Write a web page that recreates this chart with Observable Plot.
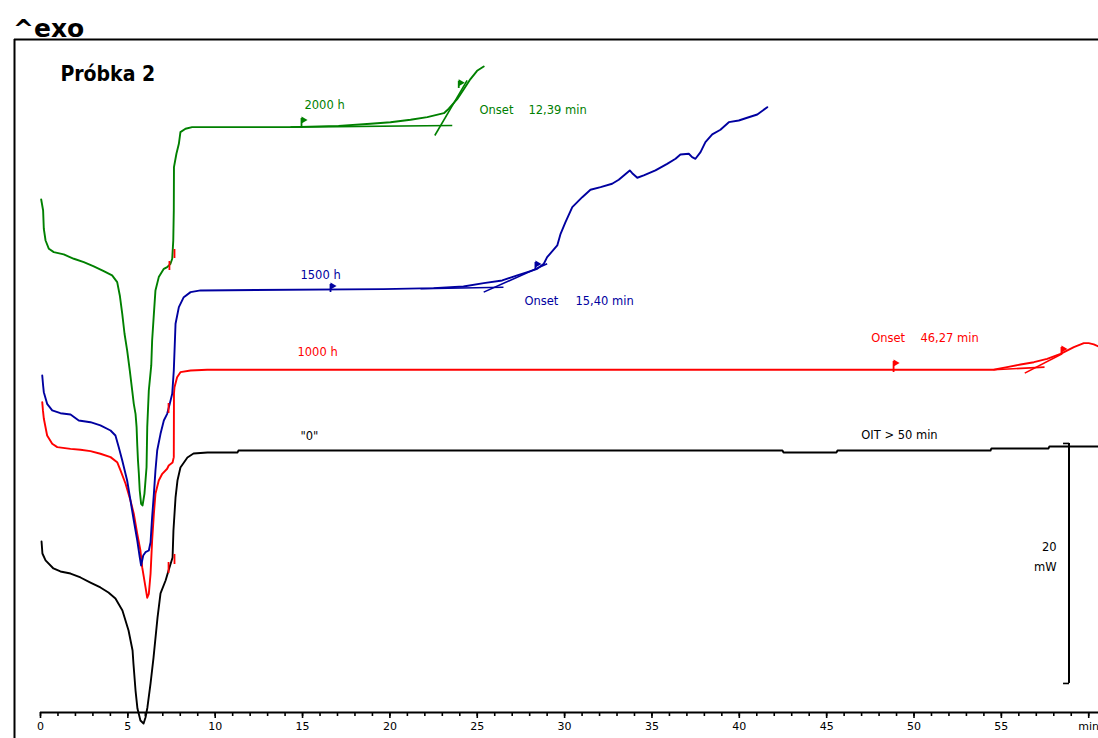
<!DOCTYPE html>
<html><head><meta charset="utf-8">
<script src="https://cdn.jsdelivr.net/npm/d3@7"></script>
<script src="https://cdn.jsdelivr.net/npm/@observablehq/plot@0.6"></script>
<style>
html,body{margin:0;padding:0;background:#fff;}
body{width:1098px;height:738px;overflow:hidden;font-family:"DejaVu Sans",sans-serif;}
#hdr{position:relative;height:37px;}
#hdr span{position:absolute;left:13px;top:16px;font:bold 25px/25px "DejaVu Sans",sans-serif;color:#000;}
#chart svg{display:block;}
</style></head><body>
<div id="hdr"><span>^exo</span></div>
<div id="chart"></div>
<script>
// ---- Data (time in min, heat flow in mW, curves offset as in the original) ----
const seriesNames = ["\"0\"", "1000 h", "1500 h", "2000 h"];
const seriesColors = ["#000000", "#ff0000", "#0000a0", "#008000"];

const blackT = [0.06,0.11,0.29,0.74,1.14,1.72,2.29,2.86,3.43,3.89,4.29,4.69,5.04,5.27,5.32,5.44,5.55,5.72,5.90,6.01,6.12,6.30,6.47,6.70,6.87,7.16,7.33,7.56,7.61,7.73,7.84,8.01,8.41,8.76,9.56,11.28,11.33,42.47,42.53,45.56,45.62,54.38,54.43,57.70,57.75,60.56];
const blackV = [14.25,13.25,12.67,12.0,11.75,11.58,11.25,10.83,10.42,10.0,9.5,8.5,6.83,5.17,4.08,1.83,0.33,-0.67,-0.92,-0.42,0.42,2.42,4.58,7.92,9.92,11.0,11.83,12.92,15.17,17.92,19.33,20.42,21.25,21.58,21.67,21.67,21.83,21.83,21.67,21.67,21.83,21.83,22.0,22.0,22.17,22.17];

const redT = [0.10,0.14,0.19,0.38,0.67,0.96,1.72,2.29,2.86,3.43,4.01,4.39,4.58,4.87,5.15,5.34,5.54,5.72,5.82,6.01,6.11,6.20,6.30,6.39,6.49,6.58,6.77,6.97,7.25,7.34,7.56,7.63,7.64,7.67,7.82,8.01,8.59,9.54,54.55,55.33,56.10,56.86,57.62,58.39,59.15,59.72,60.0,60.29,60.56];
const redV = [25.86,25.17,24.5,23.08,22.39,22.11,21.97,21.89,21.78,21.56,21.28,20.86,20.17,19.06,17.67,16.56,14.89,13.5,12.11,10.44,9.56,9.89,11.56,14.33,16.56,18.22,19.33,19.89,20.31,20.58,20.83,21.28,26.56,27.11,27.94,28.36,28.5,28.56,28.56,28.78,29.0,29.19,29.47,29.89,30.44,30.78,30.78,30.67,30.5];

const blueT = [0.10,0.15,0.19,0.38,0.67,1.14,1.72,2.19,2.86,3.43,4.01,4.29,4.48,4.68,4.96,5.15,5.34,5.54,5.68,5.76,5.88,6.01,6.20,6.30,6.39,6.49,6.58,6.68,6.87,7.06,7.25,7.40,7.54,7.63,7.73,7.92,8.20,8.59,9.16,19.63,22.50,24.21,25.37,26.43,27.29,28.05,28.43,28.81,29.0,29.58,29.77,30.05,30.44,31.01,31.48,32.06,32.72,33.10,33.73,33.87,34.16,34.53,35.20,35.87,36.35,36.63,37.11,37.30,37.49,37.78,38.06,38.45,38.92,39.40,39.97,40.45,41.03,41.60];
const blueV = [28.08,27.25,26.69,25.72,25.17,24.94,24.83,24.33,24.19,23.92,23.5,23.08,22.11,21.0,19.33,17.67,16.0,14.33,12.94,12.25,13.08,13.36,13.5,14.19,16.28,18.22,20.17,21.83,23.22,24.33,24.89,25.72,26.56,28.5,32.39,33.78,34.61,35.03,35.17,35.28,35.36,35.5,35.78,36.0,36.42,36.78,36.97,37.39,37.94,38.92,39.89,40.86,42.11,42.94,43.56,43.78,44.06,44.39,45.17,44.94,44.56,44.75,45.17,45.72,46.14,46.5,46.56,46.28,46.14,46.69,47.53,48.17,48.56,49.19,49.33,49.56,49.83,50.44];

const greenT = [0.04,0.15,0.19,0.29,0.48,0.76,1.33,1.91,2.48,3.05,3.62,4.10,4.39,4.54,4.68,4.81,4.96,5.11,5.25,5.34,5.44,5.50,5.54,5.58,5.63,5.68,5.76,5.84,5.95,6.07,6.11,6.20,6.34,6.39,6.49,6.58,6.77,7.06,7.25,7.44,7.54,7.60,7.63,7.64,7.78,7.92,8.01,8.30,8.68,14.31,17.06,18.89,20.03,21.18,22.14,23.09,23.37,23.85,24.23,24.61,24.99,25.37];
const greenV = [42.75,41.83,40.31,39.33,38.64,38.36,38.17,37.81,37.53,37.17,36.78,36.42,35.86,34.75,33.22,31.56,30.17,28.5,26.83,25.72,24.89,23.78,22.25,21.0,19.89,18.5,17.39,17.25,18.22,20.44,23.78,26.83,28.92,31.0,33.22,35.17,36.28,36.97,37.11,37.39,37.81,39.33,41.83,45.44,46.56,47.39,48.36,48.64,48.78,48.78,48.88,49.06,49.19,49.39,49.61,49.94,50.31,51.11,51.94,52.78,53.47,53.83];

// onset construction: tangent lines [series, t1, v1, t2, v2]
const tangents = [
  ["2000 h", 14.31, 48.78, 23.57, 48.92], ["2000 h", 22.57, 48.08, 24.42, 52.67],
  ["1500 h", 21.75, 35.31, 26.50, 35.44], ["1500 h", 25.37, 35.03, 29.00, 37.39],
  ["1000 h", 54.55, 28.56, 57.47, 28.78], ["1000 h", 56.34, 28.28, 58.48, 29.89]
];
// evaluation limit flags [series, t, vLow, vHigh]
const flags = [
  ["2000 h", 14.94, 48.67, 49.5], ["2000 h", 23.94, 52.0, 52.6],
  ["1500 h", 16.60, 35.0, 35.67], ["1500 h", 28.33, 36.83, 37.5],
  ["1000 h", 48.83, 28.33, 29.25], ["1000 h", 58.44, 29.83, 30.42]
];
// red integration brackets [t, vLow, vHigh]
const brackets = [[7.38, 36.83, 37.58], [7.67, 37.83, 38.58], [7.33, 24.92, 25.75], [7.33, 11.58, 12.5], [7.67, 12.33, 13.17]];

// annotation texts [text, series colour index, t, v]
const labels = [
  ["2000 h", 3, 15.11, 50.58], ["Onset", 3, 25.13, 50.17], ["12,39 min", 3, 27.93, 50.17],
  ["1500 h", 2, 14.88, 36.42], ["Onset", 2, 27.70, 34.28], ["15,40 min", 2, 30.62, 34.28],
  ["1000 h", 1, 14.71, 30.0], ["Onset", 1, 47.55, 31.17], ["46,27 min", 1, 50.37, 31.17],
  ["\"0\"", 0, 14.88, 23.0], ["OIT > 50 min", 0, 46.98, 23.08]
];
const scaleBar = {t: 58.87, tTick: 58.53, from: 2.42, to: 22.42, label: ["20", "mW"], labelT: 58.16, labelV: [13.75, 12.08]};
const sampleTitle = {text: "Próbka 2", t: 1.14, v: 53.17};

const majorTicks = d3.range(0, 61, 5);
const minorTicks = d3.range(0, 61, 1);
const xDomain = [-1.488, 60.56];
const yDomain = [0, 56.08];

// ---- build rows ----
const rows = [];
function add(name, T, V) { T.forEach((t, i) => rows.push({series: name, t, v: V[i]})); }
add(seriesNames[0], blackT, blackV);
add(seriesNames[1], redT, redV);
add(seriesNames[2], blueT, blueV);
add(seriesNames[3], greenT, greenV);

const tanRows = tangents.map(d => ({series: d[0], t1: d[1], v1: d[2], t2: d[3], v2: d[4]}));
const flagRows = flags.map(d => ({series: d[0], t: d[1], lo: d[2], hi: d[3]}));
const bracketRows = brackets.map(d => ({t: d[0], lo: d[1], hi: d[2]}));
const labelRows = labels.map(d => ({text: d[0], color: seriesColors[d[1]], t: d[2], v: d[3]}));

const chart = Plot.plot({
  width: 1098, height: 701,
  marginLeft: 14, marginRight: 0, marginTop: 2, marginBottom: 26,
  x: {domain: xDomain, label: null},
  y: {domain: yDomain, axis: null, label: null},
  color: {domain: seriesNames, range: seriesColors},
  style: {fontFamily: "DejaVu Sans, sans-serif", fontSize: "11px", color: "black", background: "white", overflow: "visible"},
  marks: [
    Plot.ruleX([xDomain[0]], {y1: yDomain[1], y2: -2.4, stroke: "black", strokeWidth: 2}),
    Plot.ruleY([yDomain[1]], {x1: xDomain[0], x2: xDomain[1], stroke: "black", strokeWidth: 2}),
    Plot.axisX({ticks: minorTicks, tickSize: 4, tickFormat: () => "", strokeWidth: 1.6, label: null}),
    Plot.axisX({ticks: majorTicks, tickSize: 6, tickPadding: 4, fontSize: 11, strokeWidth: 1.6, label: null,
      tickFormat: d => d === 60 ? "min" : String(d)}),
    Plot.ruleY([0], {x1: 0, x2: xDomain[1], stroke: "black", strokeWidth: 2}),
    Plot.line(rows, {x: "t", y: "v", z: "series", stroke: "series", strokeWidth: 1.9}),
    Plot.link(tanRows, {x1: "t1", y1: "v1", x2: "t2", y2: "v2", stroke: "series", strokeWidth: 1.6}),
    Plot.ruleX(flagRows, {x: "t", y1: "lo", y2: "hi", stroke: "series", strokeWidth: 1.8}),
    Plot.dot(flagRows, {x: "t", y: "hi", fill: "series", symbol: "triangle", rotate: 90, r: 2.6, dx: 2, dy: 1.5}),
    Plot.ruleX(bracketRows, {x: "t", y1: "lo", y2: "hi", stroke: "#ff0000", strokeWidth: 1.8}),
    Plot.ruleX([scaleBar], {x: "t", y1: "from", y2: "to", stroke: "black", strokeWidth: 2}),
    Plot.link([scaleBar.from, scaleBar.to], {x1: () => scaleBar.tTick, x2: () => scaleBar.t, y1: d => d, y2: d => d, stroke: "black", strokeWidth: 1.6}),
    Plot.text(scaleBar.label, {x: () => scaleBar.labelT, y: (d, i) => scaleBar.labelV[i], text: d => d, textAnchor: "end", fontSize: 11.5, fill: "black"}),
    Plot.text(labelRows, {x: "t", y: "v", text: "text", fill: d => d.color, textAnchor: "start", fontSize: 11.5}),
    Plot.text([sampleTitle], {x: "t", y: "v", text: "text", textAnchor: "start", fontSize: 21, fontWeight: "bold",
      fontFamily: "DejaVu Sans Condensed, DejaVu Sans, sans-serif", fill: "black"})
  ]
});
document.getElementById("chart").appendChild(chart);
</script>
</body></html>
